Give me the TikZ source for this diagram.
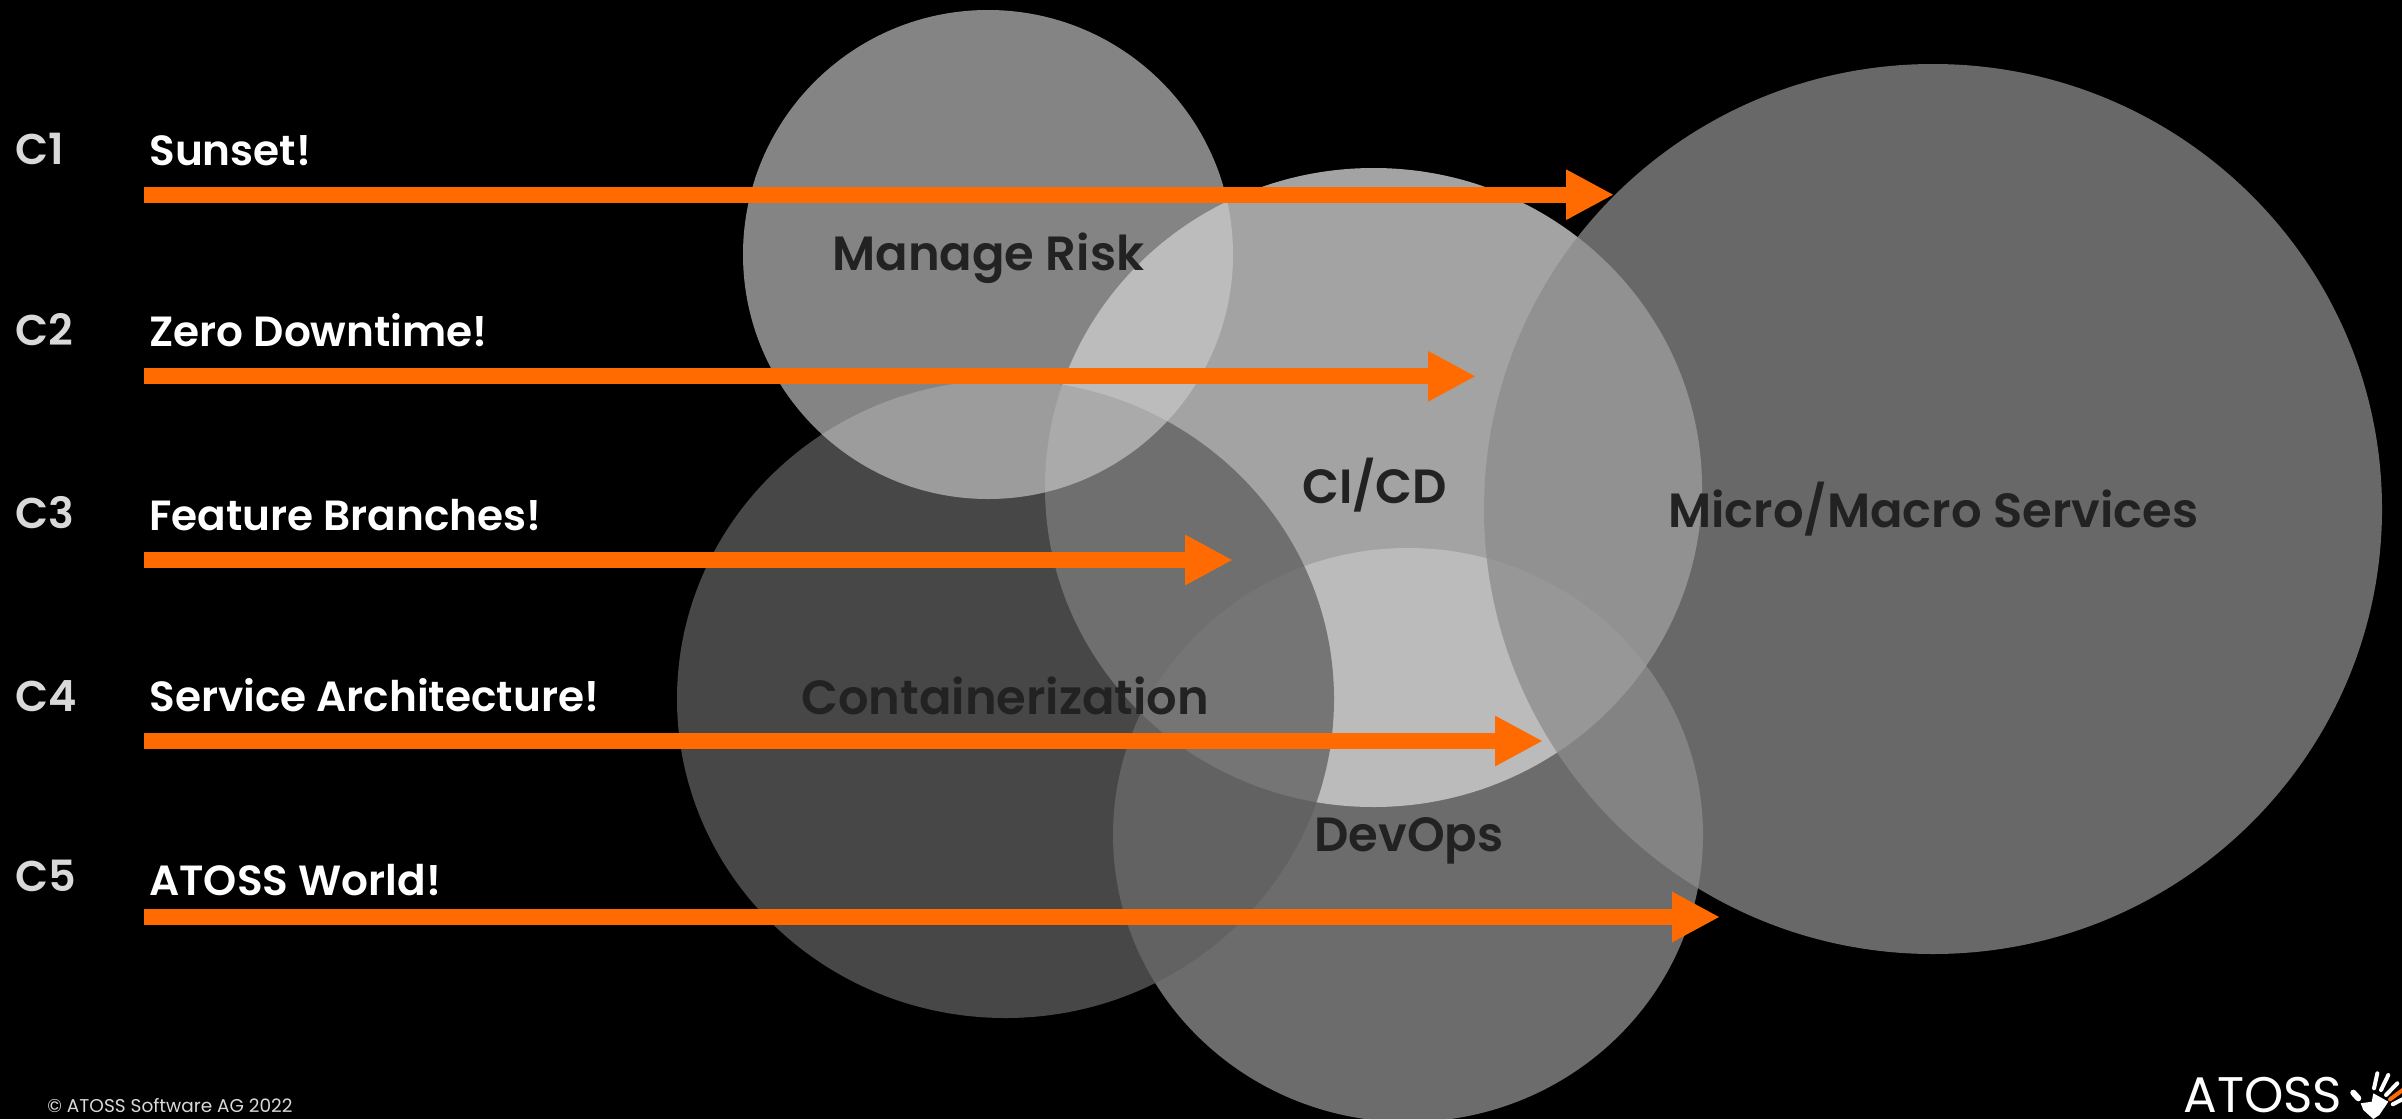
\documentclass[tikz,border=0pt]{standalone}
\usepackage{fontspec}
\usepackage{tikz}
\usetikzlibrary{arrows.meta,shapes.geometric}
\setmainfont{Poppins}
\newfontfamily\popsemi{Poppins SemiBold}
\definecolor{atossorange}{HTML}{FF6B00}
\definecolor{darktext}{HTML}{222222}
\definecolor{headtext}{HTML}{D9D9D9}
\definecolor{cicircle}{gray}{0.639}
\definecolor{devcircle}{gray}{0.831}
\definecolor{contcircle}{gray}{0.373}
\definecolor{microcircle}{gray}{0.549}
\definecolor{riskcircle}{gray}{0.792}
\tikzset{
  blob/.style={ellipse,draw=none,inner sep=0pt},
  bigtext/.style={anchor=base west,inner sep=0pt,text=darktext,font=\popsemi\fontsize{24}{28}\selectfont},
  chaptext/.style={anchor=base west,inner sep=0pt,text=headtext,font=\popsemi\fontsize{21.5}{26}\selectfont},
  itemtext/.style={anchor=base west,inner sep=0pt,text=white,font=\popsemi\fontsize{21.1}{26}\selectfont},
  bararrow/.style={draw=atossorange,line width=8pt,-{Triangle[length=24pt,width=23.5pt,fill=atossorange]}},
  finger/.style={draw=white,line width=2pt,line cap=round}
}
\begin{document}
\begin{tikzpicture}[x=0.5pt,y=-0.5pt]
\path[fill=black,use as bounding box] (0,0) rectangle (2402,1119);
\begin{scope}
\clip (0,0) rectangle (2402,1119);
\node[blob,fill=cicircle,minimum width=328.5pt,minimum height=319.5pt] (ci) at (1373.5,487.5) {};
\node[blob,fill=devcircle,fill opacity=0.51,minimum width=295pt,minimum height=287pt] (dev) at (1408,835) {};
\node[blob,fill=contcircle,fill opacity=0.755,minimum width=328.5pt,minimum height=319pt] (cont) at (1005.5,699) {};
\node[blob,fill=microcircle,fill opacity=0.75,minimum width=449pt,minimum height=445pt] (micro) at (1933,509) {};
\node[blob,fill=riskcircle,fill opacity=0.653,minimum width=245pt,minimum height=244.5pt] (risk) at (988,254.5) {};
\end{scope}

\node[bigtext] (lrisk) at (832,270) {Manage Risk};
\node[bigtext] (lci) at (1302,503) {CI/CD};
\node[bigtext] (lmicro) at (1668,527) {Micro/Macro Services};
\node[bigtext] (lcont) at (801,714) {Containerization};
\node[bigtext] (ldev) at (1314,851) {DevOps};

\node[chaptext] (c1) at (15,164) {C1};
\node[chaptext] (c2) at (15,345) {C2};
\node[chaptext] (c3) at (15,528) {C3};
\node[chaptext] (c4) at (15,711) {C4};
\node[chaptext] (c5) at (15,891) {C5};
\node[itemtext] (t1) at (149,165) {Sunset!};
\node[itemtext] (t2) at (149,346) {Zero Downtime!};
\node[itemtext] (t3) at (149,530) {Feature Branches!};
\node[itemtext] (t4) at (149,711) {Service Architecture!};
\node[itemtext] (t5) at (149,895) {ATOSS World!};

\coordinate (a1s) at (144,194.7); \coordinate (a1e) at (1614,194.7);
\coordinate (a2s) at (144,376.3); \coordinate (a2e) at (1476,376.3);
\coordinate (a3s) at (144,560);   \coordinate (a3e) at (1233,560);
\coordinate (a4s) at (144,741);   \coordinate (a4e) at (1543,741);
\coordinate (a5s) at (144,917);   \coordinate (a5e) at (1720,917);
\draw[bararrow] (a1s) -- (a1e);
\draw[bararrow] (a2s) -- (a2e);
\draw[bararrow] (a3s) -- (a3e);
\draw[bararrow] (a4s) -- (a4e);
\draw[bararrow] (a5s) -- (a5e);

\node[anchor=base west,inner sep=0pt,text=headtext,font=\fontsize{9.25}{11}\selectfont] (copy) at (47,1112) {© ATOSS Software AG 2022};
\node[anchor=base west,inner sep=0pt,text=white,font=\fontsize{25}{28}\selectfont] (logo) at (2183,1112) {ATOSS};

\begin{scope}
\clip (2340,1060) rectangle (2402,1119);
\draw[finger,line width=3pt] (2353.3,1092.7) -- (2358.3,1098.3);
\draw[finger] (2377.3,1073.3) -- (2374,1088.3);
\draw[finger] (2388.3,1075) -- (2381,1090);
\draw[finger] (2397.3,1083.3) -- (2386,1095);
\draw[finger,draw=atossorange] (2404,1089) -- (2390,1099.3);
\draw[finger] (2404,1098.5) -- (2392.7,1104.3);
\fill[white] (2360.7,1103.3) -- (2371.7,1101.7) -- (2373.3,1093.3) -- (2388.3,1101.7) -- (2379.3,1115) -- (2373.3,1119) -- (2363.3,1110) -- cycle;
\end{scope}
\end{tikzpicture}
\end{document}
